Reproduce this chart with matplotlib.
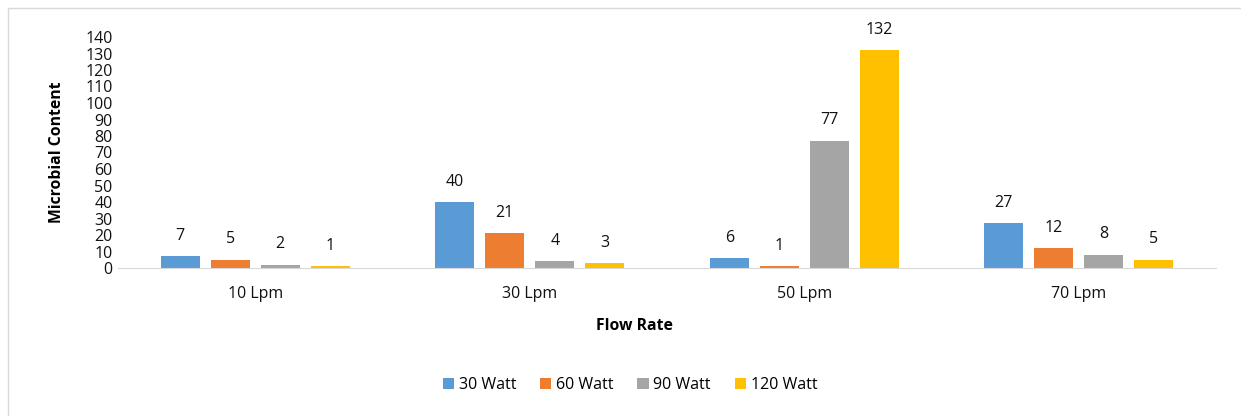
import matplotlib
matplotlib.use('Agg')
import matplotlib.pyplot as plt
import numpy as np
from matplotlib.patches import Rectangle

flow_rates = ['10 Lpm', '30 Lpm', '50 Lpm', '70 Lpm']
series_names = ['30 Watt', '60 Watt', '90 Watt', '120 Watt']
w30 = [7, 40, 6, 27]
w60 = [5, 21, 1, 12]
w90 = [2, 4, 77, 8]
w120 = [1, 3, 132, 5]
colors = ['#5B9BD5', '#ED7D31', '#A5A5A5', '#FFC000']

plt.rcParams['font.family'] = ['Open Sans', 'DejaVu Sans']

fig = plt.figure(figsize=(12.41, 4.16), dpi=100)
ax = fig.add_axes([118 / 1241, 1 - 268 / 416, 1098 / 1241, 231 / 416])

x = np.arange(len(flow_rates))
bw = 0.142
step = 0.182
for i, (vals, name) in enumerate(zip([w30, w60, w90, w120], series_names)):
    pos = x + (i - 1.5) * step
    bars = ax.bar(pos, vals, bw, color=colors[i], label=name)
    for b, v in zip(bars, vals):
        ax.annotate(str(v), (b.get_x() + b.get_width() / 2, v),
                    xytext=(0, 9), textcoords='offset points',
                    ha='center', va='bottom', fontsize=11.5, color='#111111')

ax.set_xlim(-0.5, 3.5)
ax.set_ylim(0, 140)
ax.set_yticks(range(0, 141, 10))
ax.set_xticks(x)
ax.set_xticklabels(flow_rates)
ax.tick_params(axis='both', length=0, labelsize=11.5, colors='#111111')
ax.tick_params(axis='x', pad=13)
ax.tick_params(axis='y', pad=4)
for s in ['top', 'right', 'left']:
    ax.spines[s].set_visible(False)
ax.spines['bottom'].set_color('#d9d9d9')

ax.set_ylabel('Microbial Content', fontweight='bold', fontsize=11.3)
ax.yaxis.set_label_coords(-0.048, 0.5)
ax.set_xlabel('Flow Rate', fontweight='bold', fontsize=11.3)
ax.xaxis.set_label_coords(0.47, -0.215)

fig.legend(loc='center', bbox_to_anchor=(630 / 1241, 1 - 385 / 416), ncol=4,
           frameon=False, fontsize=11.5, handlelength=0.7, handleheight=0.7,
           columnspacing=1.5, handletextpad=0.3)

fig.add_artist(Rectangle((8 / 1241, -0.1), 1.2, 1.1 - 8 / 416,
                         transform=fig.transFigure, fill=False,
                         edgecolor='#d9d9d9', linewidth=1))

fig.savefig('out.png', dpi=100)
